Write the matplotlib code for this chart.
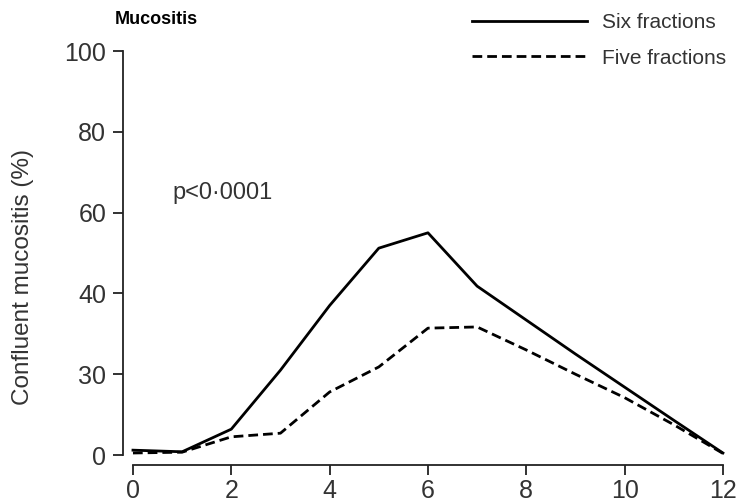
import matplotlib.pyplot as plt

plt.rcParams['font.family'] = ['Liberation Sans', 'DejaVu Sans']

weeks = [0, 1, 2, 3, 4, 5, 6, 7, 8, 9, 10, 11, 12]
six_fractions = [1.2, 0.8, 6.4, 21, 37, 51.2, 55, 41.8, 33.4, 25, 16.8, 8.6, 0.5]
five_fractions = [0.5, 0.7, 4.5, 5.4, 15.6, 21.8, 31.4, 31.7, 26, 20, 14.2, 7.5, 0.4]

xticks = [0, 2, 4, 6, 8, 10, 12]
yticks = [0, 20, 40, 60, 80, 100]
ytick_labels = ["0", "30", "40", "60", "80", "100"]

txt = "#333333"

fig = plt.figure(figsize=(7.42, 5.03), dpi=100)
ax = fig.add_axes([0.1792, 0.0954, 0.7951, 0.8032])

ax.plot(weeks, six_fractions, color="black", lw=2.0, label="Six fractions", clip_on=False)
ax.plot(weeks, five_fractions, color="black", lw=2.0, linestyle=(0, (3.5, 1.8)),
        label="Five fractions", clip_on=False)

ax.set_xlim(0, 12)
ax.set_ylim(0, 100)
ax.set_xticks(xticks)
ax.set_yticks(yticks)
ax.set_yticklabels(ytick_labels)

for s in ["top", "right"]:
    ax.spines[s].set_visible(False)
for s in ["left", "bottom"]:
    ax.spines[s].set_position(("outward", 7.2))
    ax.spines[s].set_linewidth(1.3)
    ax.spines[s].set_color("#222222")
ax.spines["left"].set_bounds(0, 100)
ax.spines["bottom"].set_bounds(0, 12)

ax.tick_params(length=7, width=1.3, color="#222222", labelsize=18, labelcolor=txt)
ax.tick_params(axis="y", pad=5)
ax.tick_params(axis="x", pad=3)

ax.set_ylabel("Confluent mucositis (%)", fontsize=17.5, color=txt)
ax.yaxis.set_label_coords(-0.168, 0.44)

fig.text(115 / 742, 1 - 19 / 503, "Mucositis", fontsize=13, fontweight="bold",
         color="black", va="center", ha="left")
ax.text(172 / 742, 1 - 193 / 503, "p<0·0001", transform=fig.transFigure,
        fontsize=17, color=txt, va="center", ha="left")

leg = ax.legend(loc="upper left", bbox_to_anchor=(472 / 742, 1 - 13 / 503),
                bbox_transform=fig.transFigure, frameon=False, fontsize=15,
                handlelength=5.5, handletextpad=0.75, labelspacing=0.8,
                borderaxespad=0, borderpad=0)
for t in leg.get_texts():
    t.set_color(txt)

fig.savefig("out.png", dpi=100)
